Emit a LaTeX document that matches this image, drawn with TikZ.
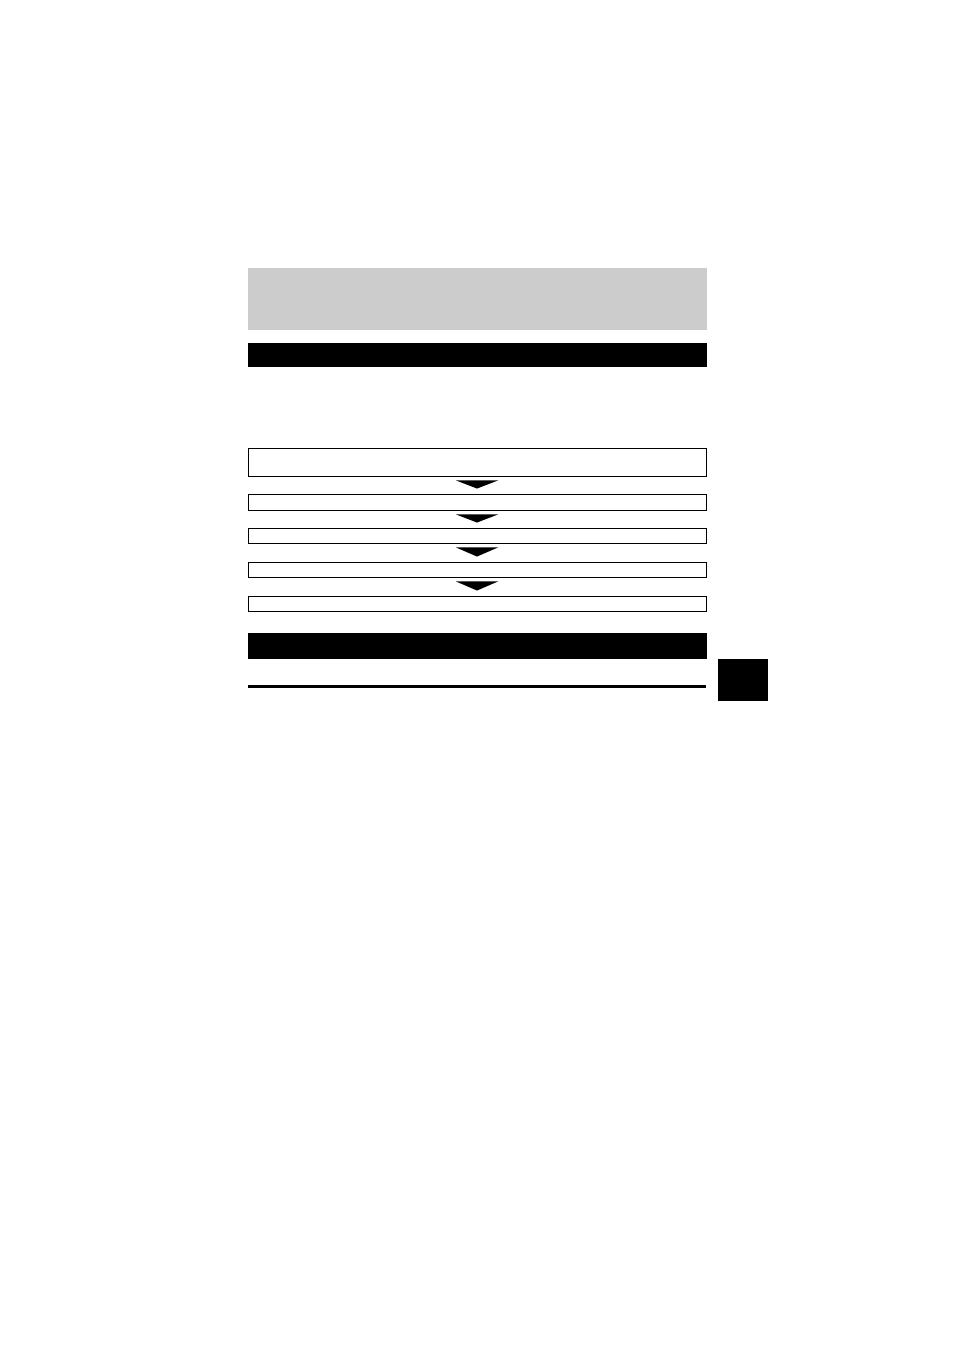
\documentclass[tikz,border=0pt]{standalone}
\usetikzlibrary{calc}
\definecolor{bandgray}{gray}{0.8}
\tikzset{
  stepbox/.style={draw,line width=0.9pt,minimum width=458pt,inner sep=0pt},
  blackbar/.style={fill=black,minimum width=459pt,inner sep=0pt},
}

\begin{document}
\begin{tikzpicture}[x=1pt,y=-1pt]
    \useasboundingbox (0,0) rectangle (954,1350);

\node[fill=bandgray,minimum width=459pt,minimum height=62pt,inner sep=0pt] (title) at (477.5,299) {};
\node[blackbar,minimum height=24pt] (head1) at (477.5,355) {};

\node[stepbox,minimum height=28pt] (s1) at (477,462) {};
\node[stepbox,minimum height=16pt] (s2) at (477,502) {};
\node[stepbox,minimum height=15pt] (s3) at (477,535.5) {};
\node[stepbox,minimum height=15pt] (s4) at (477,569.5) {};
\node[stepbox,minimum height=15pt] (s5) at (477,603.5) {};

% down arrows between the steps
\foreach \a/\b in {s1/s2,s2/s3,s3/s4,s4/s5}
  \fill ($(\a.south)+(-21,4)$) -- ($(\a.south)+(21,4)$) -- ($(\b.north)+(0,-5)$) -- cycle;

\node[blackbar,minimum height=26pt] (head2) at (477.5,646) {};
\coordinate (rl) at (248,686.5);
\coordinate (rr) at (706,686.5);
\draw[line width=3pt] (rl) -- (rr);

\node[fill=black,minimum width=50pt,minimum height=42pt,inner sep=0pt] (tab) at (743,680) {};

  \end{tikzpicture}
\end{document}
